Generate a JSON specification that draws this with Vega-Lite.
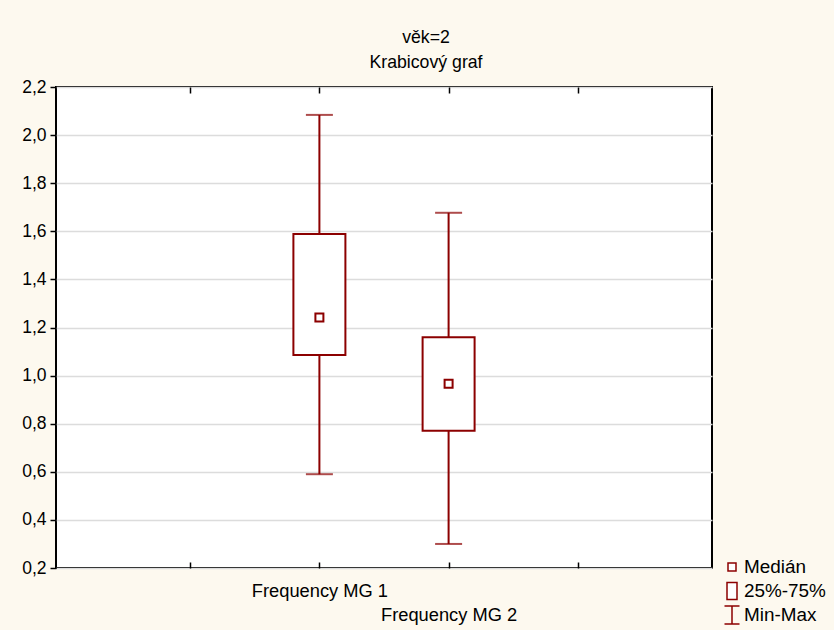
{
  "$schema": "https://vega.github.io/schema/vega-lite/v6.json",
  "width": 656,
  "height": 481,
  "autosize": {"type": "none"},
  "padding": {"left": 56, "top": 87, "right": 122, "bottom": 62},
  "background": "#fdf9ef",
  "title": {
    "text": "věk=2",
    "subtitle": "Krabicový graf",
    "anchor": "middle",
    "dx": 42,
    "font": "Liberation Sans",
    "fontSize": 17.7,
    "fontWeight": "normal",
    "color": "black",
    "subtitleFont": "Liberation Sans",
    "subtitleFontSize": 17.7,
    "subtitleColor": "black",
    "subtitlePadding": 8,
    "offset": 6
  },
  "config": {
    "view": {"fill": "white", "stroke": "black", "strokeWidth": 2},
    "axis": {
      "labelFont": "Liberation Sans",
      "labelColor": "black",
      "tickColor": "black",
      "tickWidth": 1.5,
      "domain": false
    }
  },
  "data": {
    "values": [
      {"variable": "Frequency MG 1", "pos": 2, "min": 0.590, "q1": 1.086, "median": 1.242, "q3": 1.589, "max": 2.084},
      {"variable": "Frequency MG 2", "pos": 3, "min": 0.300, "q1": 0.771, "median": 0.966, "q3": 1.159, "max": 1.677}
    ]
  },
  "layer": [
    {
      "mark": {"type": "rule", "color": "#8c0000", "strokeWidth": 2},
      "encoding": {
        "x": {
          "field": "pos",
          "type": "quantitative",
          "scale": {"domain": [0, 5], "nice": false, "zero": false},
          "axis": {
            "orient": "bottom",
            "values": [1, 2, 3, 4],
            "tickSize": -6,
            "grid": false,
            "title": null,
            "labelFontSize": 18.3,
            "labelOverlap": false,
            "labelFlush": false,
            "labelPadding": 29,
            "labelLineHeight": 24,
            "labelBaseline": "middle",
            "labelExpr": "datum.value == 2 ? 'Frequency MG 1' : datum.value == 3 ? ['', 'Frequency MG 2'] : ''"
          }
        },
        "y": {
          "field": "min",
          "type": "quantitative",
          "scale": {"domain": [0.2, 2.2], "nice": false, "zero": false},
          "axis": {
            "orient": "left",
            "values": [0.2, 0.4, 0.6, 0.8, 1.0, 1.2, 1.4, 1.6, 1.8, 2.0, 2.2],
            "tickSize": 6,
            "labelPadding": 4,
            "labelFontSize": 17.5,
            "grid": true,
            "gridColor": "#dcdcdc",
            "gridWidth": 1.5,
            "title": null,
            "labelExpr": "replace(format(datum.value, '.1f'), '.', ',')"
          }
        },
        "y2": {"field": "max"}
      }
    },
    {
      "mark": {"type": "tick", "orient": "horizontal", "color": "#8c0000", "size": 27, "thickness": 2},
      "encoding": {
        "x": {
          "field": "pos",
          "type": "quantitative",
          "axis": {
            "orient": "top",
            "values": [1, 2, 3, 4],
            "tickSize": -6,
            "labels": false,
            "grid": false,
            "title": null
          }
        },
        "y": {"field": "min", "type": "quantitative"}
      }
    },
    {
      "mark": {"type": "tick", "orient": "horizontal", "color": "#8c0000", "size": 27, "thickness": 2},
      "encoding": {
        "x": {"field": "pos", "type": "quantitative", "axis": null},
        "y": {"field": "max", "type": "quantitative"}
      }
    },
    {
      "mark": {"type": "bar", "width": 52, "fill": "white", "stroke": "#8c0000", "strokeWidth": 2},
      "encoding": {
        "x": {"field": "pos", "type": "quantitative", "axis": null},
        "y": {"field": "q1", "type": "quantitative"},
        "y2": {"field": "q3"}
      }
    },
    {
      "mark": {"type": "point", "filled": false, "fill": "white", "fillOpacity": 1, "stroke": "#8c0000", "strokeWidth": 2, "opacity": 1, "size": 400},
      "encoding": {
        "x": {"field": "pos", "type": "quantitative", "axis": null},
        "y": {"field": "median", "type": "quantitative"},
        "shape": {
          "datum": "Medián",
          "type": "nominal",
          "scale": {
            "domain": ["Medián", "25%-75%", "Min-Max"],
            "range": [
              "M-0.8,-1M0.8,1M-0.4,-0.4H0.4V0.4H-0.4Z",
              "M-0.8,-1M0.8,1M-0.5,-0.85H0.5V0.85H-0.5Z",
              "M-0.8,-1M0.8,1M-0.75,-0.9H0.75M0,-0.9V0.9M-0.75,0.9H0.75"
            ]
          },
          "legend": {
            "title": null,
            "orient": "none",
            "legendX": 665,
            "legendY": 469,
            "padding": 0,
            "columns": 1,
            "gridAlign": "all",
            "symbolSize": 400,
            "rowPadding": -3,
            "labelOffset": 1,
            "labelFont": "Liberation Sans",
            "labelFontSize": 18.9,
            "labelColor": "black",
            "encode": {
              "symbols": {
                "update": {
                  "stroke": {"value": "#8c0000"},
                  "fill": {"value": "transparent"},
                  "strokeWidth": {"value": 2},
                  "opacity": {"value": 1},
                  "size": {"value": 400}
                }
              }
            }
          }
        }
      }
    }
  ],
  "resolve": {"axis": {"x": "independent"}}
}
